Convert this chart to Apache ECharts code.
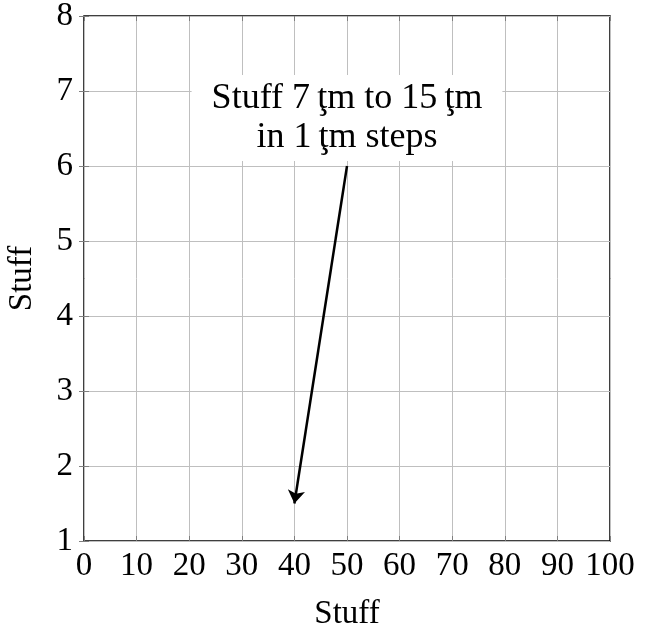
<!DOCTYPE html>
<html>
<head>
<meta charset="utf-8">
<script src="https://cdn.jsdelivr.net/npm/echarts@6/dist/echarts.min.js"></script>
<style>
html,body{margin:0;padding:0;background:#fff;}
#chart{width:646px;height:629px;}
</style>
</head>
<body>
<div id="chart"></div>
<script>
const xTicks = [0, 10, 20, 30, 40, 50, 60, 70, 80, 90, 100];
const yTicks = [1, 2, 3, 4, 5, 6, 7, 8];
const xTitle = 'Stuff';
const yTitle = 'Stuff';
const arrowStart = [50, 6];
const arrowEnd = [40, 1.5];
const notePoint = [50, 6.64];
const noteText = 'Stuff 7\u2009ţm to 15\u2009ţm\nin 1\u2009ţm steps';

const FONT = '"Liberation Serif", "DejaVu Serif", serif';
const chart = echarts.init(document.getElementById('chart'));

const baseAxis = {
  axisLine: { show: false },
  splitLine: { show: true, lineStyle: { color: '#bfbfbf', width: 1 } },
  axisTick: { show: true, inside: true, length: 5, lineStyle: { color: '#7f7f7f', width: 1 } },
  axisLabel: { fontFamily: FONT, fontSize: 33, color: '#000' },
  nameTextStyle: { fontFamily: FONT, fontSize: 33, color: '#000' }
};

chart.setOption({
  animation: false,
  backgroundColor: '#fff',
  grid: { left: 84, right: 36, top: 16, bottom: 88, show: true, borderColor: '#000', borderWidth: 1.5, backgroundColor: 'transparent', containLabel: false, outerBoundsMode: 'none' },
  xAxis: [
    Object.assign({}, baseAxis, {
      type: 'value', min: xTicks[0], max: xTicks[xTicks.length - 1], interval: 10,
      name: xTitle, nameLocation: 'middle', nameGap: 57,
      axisLabel: Object.assign({}, baseAxis.axisLabel, { margin: 9 })
    }),
    Object.assign({}, baseAxis, {
      type: 'value', position: 'top', min: xTicks[0], max: xTicks[xTicks.length - 1], interval: 10,
      splitLine: { show: false }, axisLabel: { show: false }
    })
  ],
  yAxis: [
    Object.assign({}, baseAxis, {
      type: 'value', min: yTicks[0], max: yTicks[yTicks.length - 1], interval: 1,
      name: yTitle, nameLocation: 'middle', nameGap: 45,
      axisLabel: Object.assign({}, baseAxis.axisLabel, { margin: 11 })
    }),
    Object.assign({}, baseAxis, {
      type: 'value', position: 'right', min: yTicks[0], max: yTicks[yTicks.length - 1], interval: 1,
      splitLine: { show: false }, axisLabel: { show: false }
    })
  ],
  series: [
    {
      type: 'lines',
      coordinateSystem: 'cartesian2d',
      xAxisIndex: 0, yAxisIndex: 0,
      symbol: ['none', 'arrow'],
      symbolSize: [0, 13],
      lineStyle: { color: '#000', width: 2.5, opacity: 1 },
      data: [{ coords: [arrowStart, arrowEnd] }],
      z: 3
    },
    {
      type: 'scatter',
      xAxisIndex: 0, yAxisIndex: 0,
      symbolSize: 0,
      itemStyle: { opacity: 1 },
      data: [notePoint],
      label: {
        show: true, position: 'inside', formatter: noteText,
        fontFamily: FONT, fontSize: 36, color: '#000', lineHeight: 39,
        backgroundColor: '#fff', padding: [4, 20, 4, 20], align: 'center'
      },
      z: 4
    }
  ]
});
</script>
</body>
</html>
